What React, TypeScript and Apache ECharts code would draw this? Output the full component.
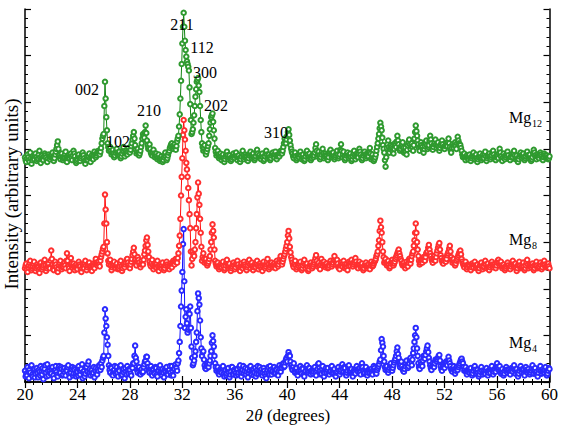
import React, { useEffect, useRef } from "react";
import * as echarts from "echarts";

// 2θ grid: 20.00 .. 60.00 step 0.05 (one row = one degree)
const X_START = 20;
const X_STEP = 0.05;

// Raw intensities (arbitrary units)
const mg4: number[] = [
  14, 8, 11, 9, 18, 13, 6, 15, 12, 19, 20, 10, 8, 16, 15, 7, 11, 14, 17, 12,
  7, 15, 13, 9, 19, 12, 10, 17, 5, 13, 16, 20, 12, 8, 21, 14, 9, 16, 14, 11,
  11, 16, 18, 9, 6, 14, 15, 19, 13, 10, 8, 17, 19, 11, 12, 18, 16, 9, 10, 15,
  17, 12, 9, 15, 14, 18, 20, 11, 7, 13, 12, 16, 18, 9, 11, 17, 15, 10, 8, 14,
  13, 9, 19, 15, 10, 14, 16, 21, 6, 12, 14, 8, 11, 17, 18, 13, 21, 24, 12, 16,
  9, 13, 15, 10, 12, 18, 7, 14, 17, 11, 10, 16, 14, 20, 19, 15, 22, 18, 25, 28,
  30, 55, 80, 70, 62, 50, 42, 30, 20, 15, 12, 18, 17, 10, 9, 14, 15, 19, 11, 13,
  18, 12, 8, 15, 14, 19, 20, 9, 10, 14, 16, 12, 6, 17, 13, 10, 19, 15, 11, 16,
  15, 11, 9, 18, 17, 22, 22, 30, 41, 28, 24, 15, 12, 17, 18, 11, 10, 15, 16, 12,
  13, 18, 21, 24, 25, 29, 29, 22, 18, 14, 12, 17, 19, 11, 9, 16, 15, 12, 11, 18,
  17, 10, 8, 14, 14, 18, 20, 13, 11, 9, 16, 12, 7, 15, 13, 17, 18, 12, 10, 14,
  15, 19, 12, 9, 19, 14, 9, 16, 16, 20, 21, 17, 14, 22, 25, 33, 45, 62, 83, 100,
  120, 150, 166, 110, 60, 72, 80, 65, 55, 58, 60, 75, 83, 60, 40, 28, 20, 22, 25, 30,
  35, 45, 55, 78, 97, 92, 85, 68, 50, 38, 30, 34, 35, 26, 20, 17, 16, 19, 22, 20,
  18, 22, 25, 30, 35, 44, 52, 46, 40, 30, 22, 18, 14, 16, 18, 12, 10, 13, 16, 14,
  12, 17, 19, 11, 8, 13, 15, 9, 11, 16, 17, 12, 7, 10, 13, 18, 18, 11, 10, 15,
  14, 11, 9, 16, 16, 10, 12, 18, 20, 13, 8, 12, 15, 19, 11, 14, 17, 10, 13, 16,
  7, 12, 14, 18, 19, 13, 10, 15, 16, 9, 12, 17, 8, 11, 15, 19, 11, 14, 18, 12,
  13, 16, 9, 12, 17, 14, 11, 8, 6, 12, 15, 18, 12, 10, 19, 15, 10, 13, 14, 17,
  18, 12, 11, 16, 15, 10, 9, 14, 20, 16, 13, 18, 17, 21, 22, 18, 19, 23, 26, 28,
  24, 30, 34, 31, 30, 24, 20, 17, 15, 19, 22, 15, 12, 16, 17, 11, 9, 13, 14, 18,
  19, 14, 11, 17, 16, 10, 8, 13, 14, 18, 20, 15, 12, 17, 17, 12, 10, 14, 15, 11,
  13, 16, 18, 12, 9, 14, 16, 21, 22, 17, 14, 10, 11, 16, 19, 13, 8, 12, 15, 17,
  12, 15, 17, 11, 10, 13, 14, 18, 19, 14, 11, 15, 16, 10, 8, 12, 13, 17, 18, 14,
  10, 13, 15, 19, 21, 16, 13, 18, 17, 12, 9, 12, 14, 18, 20, 15, 12, 14, 16, 11,
  8, 12, 15, 13, 11, 17, 19, 15, 13, 16, 17, 12, 10, 17, 22, 18, 14, 11, 12, 16,
  18, 13, 9, 12, 15, 14, 12, 15, 16, 12, 10, 15, 19, 17, 14, 12, 11, 15, 17, 19,
  21, 24, 26, 36, 48, 44, 40, 30, 24, 18, 15, 17, 19, 14, 12, 15, 17, 20, 22, 17,
  14, 17, 20, 23, 25, 27, 30, 35, 39, 32, 28, 22, 18, 21, 24, 19, 16, 14, 13, 16,
  19, 22, 25, 20, 17, 19, 22, 26, 28, 24, 20, 26, 33, 38, 45, 52, 60, 50, 38, 30,
  22, 18, 16, 20, 24, 21, 19, 25, 30, 28, 27, 31, 35, 38, 41, 34, 28, 24, 20, 17,
  15, 19, 22, 20, 18, 22, 26, 25, 24, 26, 28, 30, 31, 25, 19, 16, 14, 18, 21, 19,
  17, 21, 24, 22, 20, 25, 29, 25, 22, 19, 16, 14, 13, 16, 19, 15, 11, 14, 18, 16,
  15, 18, 20, 22, 24, 26, 27, 24, 22, 18, 14, 16, 18, 13, 10, 13, 16, 14, 12, 15,
  17, 12, 9, 11, 14, 17, 19, 15, 11, 13, 15, 12, 8, 10, 13, 16, 18, 14, 10, 12,
  14, 12, 11, 15, 17, 13, 9, 12, 15, 14, 12, 16, 19, 14, 10, 13, 16, 15, 13, 18,
  22, 18, 15, 17, 19, 14, 11, 13, 16, 12, 9, 11, 14, 16, 18, 15, 12, 14, 15, 13,
  10, 14, 17, 15, 13, 17, 20, 15, 11, 14, 16, 12, 8, 11, 14, 17, 19, 15, 12, 16,
  15, 11, 9, 14, 18, 15, 12, 14, 16, 13, 10, 12, 14, 17, 20, 15, 11, 14, 17, 12,
  13, 10, 8, 12, 15, 17, 19, 14, 11, 13, 16, 14, 12, 15, 18, 13, 9, 11, 14, 17,
  16,
];

const mg8: number[] = [
  12, 15, 17, 11, 8, 13, 15, 18, 20, 14, 10, 12, 14, 17, 19, 13, 9, 12, 16, 14,
  13, 10, 7, 12, 18, 14, 11, 13, 15, 19, 21, 15, 9, 12, 14, 16, 17, 13, 12, 20,
  31, 22, 16, 12, 10, 15, 19, 16, 13, 10, 8, 12, 15, 18, 20, 14, 11, 13, 14, 16,
  18, 15, 12, 20, 28, 20, 15, 12, 9, 16, 23, 17, 13, 15, 17, 14, 10, 13, 16, 12,
  11, 15, 19, 16, 14, 10, 8, 12, 16, 14, 12, 17, 20, 15, 10, 13, 15, 17, 18, 14,
  13, 11, 9, 14, 17, 14, 12, 17, 22, 18, 15, 17, 19, 16, 14, 20, 24, 27, 30, 33,
  35, 60, 91, 75, 60, 40, 28, 20, 16, 19, 21, 15, 10, 13, 15, 17, 19, 14, 12, 15,
  17, 13, 11, 12, 14, 18, 20, 14, 9, 12, 16, 14, 13, 16, 18, 21, 22, 18, 15, 13,
  12, 16, 19, 22, 26, 30, 34, 27, 21, 17, 15, 20, 24, 21, 18, 15, 13, 16, 20, 17,
  16, 21, 27, 31, 36, 42, 45, 37, 30, 24, 19, 16, 14, 18, 21, 15, 11, 14, 17, 15,
  13, 17, 20, 14, 9, 13, 16, 14, 12, 15, 18, 13, 10, 12, 15, 17, 19, 16, 14, 12,
  11, 14, 17, 15, 13, 17, 20, 18, 16, 19, 22, 20, 18, 23, 28, 36, 47, 65, 90, 110,
  130, 155, 171, 160, 150, 138, 125, 118, 110, 98, 85, 70, 55, 30, 15, 22, 30, 27, 25, 32,
  40, 55, 70, 88, 104, 92, 80, 65, 50, 35, 20, 24, 28, 22, 18, 20, 22, 18, 15, 17,
  19, 22, 25, 32, 40, 50, 59, 52, 45, 32, 20, 17, 14, 16, 18, 14, 11, 13, 16, 14,
  13, 16, 19, 14, 10, 12, 15, 18, 21, 16, 12, 15, 17, 12, 9, 12, 14, 16, 18, 15,
  11, 13, 16, 18, 20, 16, 13, 11, 9, 13, 17, 14, 12, 15, 19, 16, 14, 12, 10, 13,
  15, 18, 21, 16, 12, 15, 18, 14, 10, 13, 16, 14, 13, 17, 20, 15, 11, 14, 17, 15,
  14, 11, 9, 14, 19, 15, 12, 14, 16, 19, 22, 16, 11, 13, 15, 17, 18, 15, 13, 15,
  17, 14, 12, 16, 20, 17, 14, 16, 19, 22, 25, 20, 16, 19, 22, 25, 27, 30, 33, 36,
  40, 47, 52, 44, 35, 29, 24, 21, 18, 15, 13, 17, 20, 15, 11, 13, 16, 15, 14, 17,
  19, 14, 10, 12, 15, 18, 21, 16, 12, 15, 17, 13, 9, 11, 14, 16, 18, 15, 12, 14,
  16, 18, 20, 23, 26, 20, 14, 16, 18, 14, 11, 16, 22, 18, 15, 17, 19, 16, 13, 15,
  17, 14, 12, 13, 15, 18, 20, 17, 14, 16, 18, 21, 25, 20, 16, 18, 21, 17, 13, 12,
  11, 15, 18, 16, 14, 17, 20, 16, 12, 14, 16, 13, 10, 15, 19, 17, 15, 18, 21, 17,
  14, 16, 18, 20, 23, 19, 16, 14, 12, 16, 19, 16, 13, 15, 17, 13, 10, 12, 15, 16,
  18, 15, 12, 14, 16, 13, 11, 15, 19, 16, 14, 15, 17, 19, 20, 22, 25, 27, 30, 36,
  42, 52, 63, 56, 50, 40, 30, 24, 18, 20, 22, 18, 15, 17, 20, 16, 12, 14, 17, 19,
  21, 18, 15, 17, 19, 22, 24, 26, 28, 30, 32, 28, 25, 22, 20, 17, 15, 16, 18, 15,
  12, 15, 19, 16, 14, 18, 22, 20, 17, 21, 25, 28, 30, 36, 42, 50, 60, 50, 40, 32,
  25, 20, 16, 18, 21, 20, 18, 21, 24, 22, 20, 24, 28, 29, 30, 34, 37, 32, 28, 25,
  22, 20, 18, 21, 25, 22, 20, 24, 28, 31, 34, 37, 39, 32, 26, 23, 20, 18, 17, 20,
  23, 21, 19, 22, 26, 28, 30, 33, 36, 30, 24, 21, 18, 20, 22, 18, 15, 17, 20, 22,
  24, 26, 28, 30, 31, 27, 22, 19, 17, 15, 13, 16, 19, 15, 11, 13, 16, 15, 14, 12,
  10, 13, 17, 15, 13, 16, 19, 15, 12, 14, 16, 12, 9, 12, 15, 17, 18, 14, 11, 13,
  14, 17, 20, 16, 12, 14, 17, 13, 10, 13, 15, 17, 19, 16, 13, 15, 16, 14, 12, 15,
  18, 20, 21, 18, 15, 17, 19, 15, 12, 14, 16, 13, 10, 12, 14, 16, 18, 15, 13, 12,
  11, 14, 16, 18, 20, 16, 13, 15, 17, 13, 9, 12, 15, 17, 19, 15, 12, 13, 14, 16,
  18, 14, 10, 12, 15, 18, 21, 16, 12, 14, 16, 14, 13, 15, 17, 14, 10, 12, 15, 17,
  19, 15, 12, 13, 14, 16, 18, 15, 11, 13, 16, 18, 20, 16, 13, 14, 15, 16, 17, 14,
  12,
];

const mg12: number[] = [
  15, 12, 10, 14, 18, 15, 12, 10, 20, 14, 8, 12, 16, 14, 13, 17, 19, 15, 11, 13,
  14, 18, 22, 15, 9, 13, 17, 14, 12, 16, 19, 17, 15, 12, 10, 14, 18, 16, 13, 15,
  16, 18, 20, 15, 11, 14, 18, 21, 24, 28, 32, 24, 17, 15, 13, 16, 19, 15, 12, 14,
  15, 18, 21, 15, 10, 14, 17, 15, 14, 17, 19, 15, 12, 17, 22, 19, 16, 12, 9, 11,
  13, 16, 18, 14, 11, 14, 16, 18, 20, 17, 14, 11, 8, 12, 15, 13, 12, 16, 19, 14,
  10, 14, 17, 15, 13, 17, 21, 18, 15, 17, 19, 21, 22, 20, 18, 21, 25, 30, 35, 38,
  40, 70, 96, 78, 58, 44, 30, 26, 22, 24, 26, 22, 18, 20, 23, 19, 15, 17, 20, 22,
  24, 20, 17, 19, 21, 17, 14, 16, 19, 22, 26, 21, 16, 19, 22, 20, 18, 21, 25, 22,
  20, 23, 27, 30, 34, 38, 42, 35, 28, 23, 19, 21, 24, 20, 17, 19, 22, 26, 30, 35,
  40, 38, 36, 42, 49, 41, 33, 28, 24, 26, 29, 24, 20, 18, 17, 20, 23, 19, 15, 17,
  19, 16, 13, 15, 18, 14, 11, 13, 16, 13, 10, 12, 15, 17, 20, 16, 12, 14, 17, 20,
  22, 25, 27, 29, 30, 27, 24, 26, 29, 26, 23, 27, 32, 35, 38, 48, 61, 78, 97, 115,
  137, 155, 170, 155, 140, 130, 123, 118, 115, 112, 108, 90, 72, 55, 40, 42, 45, 52, 60, 70,
  80, 88, 96, 98, 100, 92, 85, 70, 55, 42, 30, 26, 22, 25, 28, 22, 18, 21, 24, 27,
  30, 38, 45, 52, 58, 60, 62, 53, 44, 35, 25, 21, 17, 19, 22, 18, 14, 16, 19, 16,
  12, 15, 18, 14, 10, 13, 16, 18, 21, 17, 13, 15, 17, 14, 11, 13, 15, 17, 19, 16,
  14, 17, 20, 16, 12, 15, 17, 14, 10, 13, 16, 19, 22, 17, 13, 15, 18, 16, 15, 13,
  11, 14, 17, 19, 21, 17, 14, 16, 19, 15, 12, 14, 16, 20, 23, 19, 15, 16, 18, 15,
  13, 16, 19, 15, 11, 13, 16, 19, 22, 18, 14, 16, 18, 15, 12, 14, 17, 19, 20, 17,
  15, 18, 21, 17, 13, 16, 18, 17, 16, 19, 22, 20, 19, 22, 26, 30, 35, 32, 30, 34,
  38, 42, 45, 39, 33, 28, 24, 21, 19, 16, 14, 17, 20, 16, 12, 14, 17, 16, 15, 18,
  21, 17, 13, 15, 18, 14, 11, 13, 16, 19, 22, 18, 14, 16, 19, 15, 12, 14, 17, 16,
  15, 17, 20, 25, 29, 22, 16, 18, 21, 17, 13, 15, 18, 21, 24, 19, 14, 16, 19, 17,
  16, 14, 12, 15, 19, 21, 23, 19, 15, 17, 20, 16, 13, 15, 17, 19, 22, 18, 14, 16,
  18, 23, 29, 22, 15, 18, 21, 16, 12, 14, 17, 19, 20, 17, 14, 16, 19, 15, 11, 13,
  16, 19, 22, 17, 13, 16, 19, 17, 15, 19, 24, 21, 18, 15, 12, 14, 17, 19, 21, 18,
  14, 16, 19, 17, 16, 20, 25, 19, 13, 15, 18, 14, 11, 13, 15, 18, 22, 26, 30, 35,
  40, 46, 52, 48, 44, 36, 28, 24, 20, 12, 5, 15, 25, 29, 33, 26, 20, 24, 28, 26,
  24, 21, 19, 24, 30, 28, 26, 32, 38, 33, 29, 25, 22, 24, 27, 29, 31, 25, 20, 22,
  25, 21, 18, 23, 28, 31, 34, 29, 24, 27, 30, 26, 22, 28, 35, 42, 49, 43, 38, 33,
  29, 25, 22, 27, 31, 28, 26, 23, 20, 24, 27, 30, 33, 28, 24, 26, 28, 33, 38, 34,
  30, 26, 23, 26, 29, 31, 34, 29, 25, 28, 31, 26, 22, 25, 28, 30, 33, 29, 26, 25,
  24, 27, 30, 28, 27, 31, 35, 30, 26, 23, 20, 25, 29, 27, 25, 28, 31, 27, 24, 30,
  37, 33, 30, 29, 28, 25, 22, 18, 15, 17, 19, 15, 12, 15, 17, 15, 13, 16, 18, 14,
  11, 14, 16, 18, 20, 16, 13, 15, 18, 14, 10, 13, 15, 17, 19, 15, 12, 14, 17, 15,
  14, 18, 21, 16, 11, 14, 16, 18, 19, 16, 13, 15, 17, 20, 22, 18, 15, 13, 12, 15,
  18, 16, 14, 19, 24, 20, 16, 13, 11, 15, 19, 16, 13, 15, 17, 19, 21, 17, 14, 13,
  12, 15, 18, 16, 15, 19, 22, 17, 13, 15, 17, 13, 10, 13, 16, 18, 20, 17, 14, 16,
  19, 15, 12, 14, 16, 19, 21, 17, 14, 16, 18, 14, 11, 13, 15, 19, 23, 20, 17, 15,
  13, 16, 18, 16, 14, 17, 20, 18, 16, 14, 12, 15, 19, 17, 15, 16, 17, 15, 13, 14,
  16,
];

// vertical stacking offsets of the three patterns
const OFFSETS = { mg4: -2, mg8: 110, mg12: 226 };

const X_TICKS = { min: 20, max: 60, interval: 4 };
const Y_RANGE = { min: 0, max: 400, interval: 50 };

const PEAK_LABELS = [
  { text: "002", x: 87, y: 89 },
  { text: "102", x: 118, y: 141 },
  { text: "210", x: 149, y: 110 },
  { text: "211", x: 182, y: 24 },
  { text: "112", x: 202, y: 47 },
  { text: "300", x: 205, y: 72 },
  { text: "202", x: 216, y: 105 },
  { text: "310", x: 276, y: 132 },
];

const SAMPLE_LABELS = [
  { main: "Mg", sub: "12", y: 117 },
  { main: "Mg", sub: "8", y: 239 },
  { main: "Mg", sub: "4", y: 342 },
];

const FONT = "'Liberation Serif', 'Times New Roman', serif";

function build(arr: number[], off: number) {
  return arr.map((v, i) => [+(X_START + i * X_STEP).toFixed(2), v + off]);
}

export default function App() {
  const ref = useRef<HTMLDivElement>(null);
  useEffect(() => {
    if (!ref.current) return;
    const chart = echarts.init(ref.current, undefined, { renderer: "svg" });

    const xAxisBase = {
      type: "value" as const,
      min: X_TICKS.min,
      max: X_TICKS.max,
      interval: X_TICKS.interval,
      axisLine: { show: true, lineStyle: { color: "#000", width: 1.5 } },
      axisTick: { show: true, inside: true, length: 6, lineStyle: { color: "#000", width: 1.2 } },
      minorTick: { show: true, splitNumber: 6, length: 3, lineStyle: { color: "#000", width: 1 } },
      splitLine: { show: false },
      minorSplitLine: { show: false },
    };
    const yAxisBase = {
      type: "value" as const,
      min: Y_RANGE.min,
      max: Y_RANGE.max,
      interval: Y_RANGE.interval,
      axisLine: { show: true, lineStyle: { color: "#000", width: 1.5 } },
      axisTick: { show: true, inside: true, length: 6, lineStyle: { color: "#000", width: 1.2 } },
      minorTick: { show: true, splitNumber: 5, length: 3, lineStyle: { color: "#000", width: 1 } },
      splitLine: { show: false },
      minorSplitLine: { show: false },
      axisLabel: { show: false },
    };

    const mkSeries = (name: string, data: number[][], line: string, mark: string) => ({
      name,
      type: "line" as const,
      data,
      xAxisIndex: 0,
      yAxisIndex: 0,
      symbol: "emptyCircle",
      symbolSize: 4.5,
      showSymbol: true,
      showAllSymbol: true,
      lineStyle: { color: line, width: 1 },
      itemStyle: { color: mark, borderColor: mark, borderWidth: 0.8 },
      emphasis: { disabled: true },
    });

    const graphics: any[] = [];
    PEAK_LABELS.forEach((p) =>
      graphics.push({
        type: "text",
        x: p.x,
        y: p.y,
        style: { text: p.text, font: `16px ${FONT}`, fill: "#000", textAlign: "center", textVerticalAlign: "middle" },
        z: 100,
      })
    );
    SAMPLE_LABELS.forEach((s) => {
      graphics.push({
        type: "text",
        x: 509,
        y: s.y,
        style: { text: s.main, font: `16px ${FONT}`, fill: "#000", textAlign: "left", textVerticalAlign: "middle" },
        z: 100,
      });
      graphics.push({
        type: "text",
        x: 532,
        y: s.y + 6,
        style: { text: s.sub, font: `10px ${FONT}`, fill: "#000", textAlign: "left", textVerticalAlign: "middle" },
        z: 100,
      });
    });
    graphics.push({
      type: "text",
      x: 11,
      y: 194,
      rotation: Math.PI / 2,
      style: {
        text: "Intensity (arbitrary units)",
        font: `19px ${FONT}`,
        fill: "#000",
        textAlign: "center",
        textVerticalAlign: "middle",
      },
    });
    graphics.push({
      type: "text",
      x: 288,
      y: 415,
      style: {
        text: "2{i|θ} (degrees)",
        font: `17px ${FONT}`,
        fill: "#000",
        textAlign: "center",
        textVerticalAlign: "middle",
        rich: { i: { fontStyle: "italic", fontSize: 17, fontFamily: FONT } },
      },
    });

    chart.setOption({
      animation: false,
      backgroundColor: "#fff",
      grid: { left: 25, right: 9, top: 9, bottom: 46, containLabel: false },
      xAxis: [
        {
          ...xAxisBase,
          position: "bottom",
          axisLabel: { show: true, fontFamily: FONT, fontSize: 17, color: "#000", margin: 4 },
        },
        { ...xAxisBase, position: "top", axisLabel: { show: false } },
      ],
      yAxis: [
        { ...yAxisBase, position: "left" },
        { ...yAxisBase, position: "right" },
      ],
      series: [
        mkSeries("Mg4", build(mg4, OFFSETS.mg4), "#1010ff", "#2a2aff"),
        mkSeries("Mg8", build(mg8, OFFSETS.mg8), "#ff1010", "#ff3030"),
        mkSeries("Mg12", build(mg12, OFFSETS.mg12), "#128412", "#2f9a2f"),
      ],
      graphic: graphics,
    });
    return () => chart.dispose();
  }, []);
  return <div ref={ref} style={{ width: 561, height: 428, position: "absolute", left: 0, top: 0 }} />;
}
